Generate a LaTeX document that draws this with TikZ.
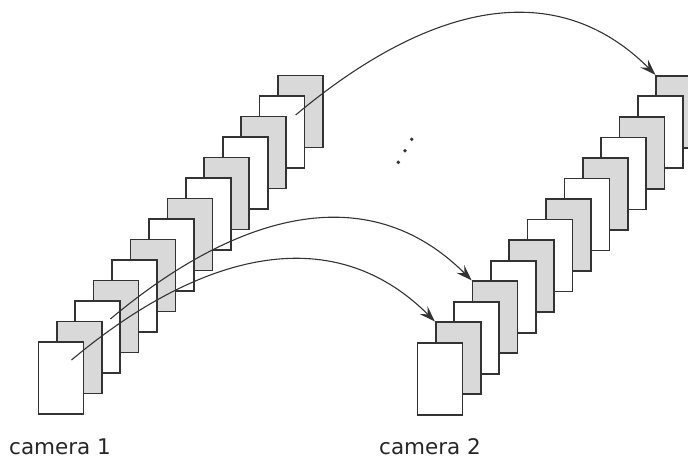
\documentclass[tikz,border=0pt]{standalone}
\usepackage{fontspec}
\setmainfont{DejaVu Sans}
\usetikzlibrary{arrows.meta,calc}
\begin{document}
\begin{tikzpicture}[x=1pt,y=-1pt,
  framebox/.style={draw=black!80, line width=1.7pt, minimum width=45pt,
    minimum height=72pt, inner sep=0pt, anchor=north west},
  flow/.style={draw=black!80, line width=1.1pt,
    -{Stealth[length=16pt,width=11pt,inset=6pt]}},
  camlabel/.style={font=\fontsize{21.5}{24}\selectfont, anchor=base west,
    inner sep=0pt, text=black!85},
  dot/.style={circle, fill=black!80, inner sep=0pt, minimum size=3.8pt}
]
\useasboundingbox (0,0) rectangle (688,458);

% frame stacks, drawn from the back to the front
\foreach \i in {13,12,...,0} {
  \pgfmathtruncatemacro{\odd}{mod(\i,2)}
  \ifnum\odd=1 \def\fillc{black!15}\else\def\fillc{white}\fi
  \node[framebox, fill=\fillc] (c1-\i) at ({37.5+18.43*\i},{341-20.5*\i}) {};
}
\foreach \i in {13,12,...,0} {
  \pgfmathtruncatemacro{\odd}{mod(\i,2)}
  \ifnum\odd=1 \def\fillc{black!15}\else\def\fillc{white}\fi
  \node[framebox, fill=\fillc] (c2-\i) at ({416.5+18.38*\i},{342-20.55*\i}) {};
}

% correspondences between the two sequences
\coordinate (s1) at ($(c1-0.north west)+(34,19)$);
\coordinate (s2) at ($(c1-2.north west)+(36,19)$);
\coordinate (s3) at ($(c1-12.north west)+(37,20)$);
\draw[flow] (s1) .. controls +(124,-104) and +(-105,-105) .. (c2-1.north west);
\draw[flow] (s2) .. controls +(124,-104) and +(-105,-105) .. (c2-3.north west);
\draw[flow] (s3) .. controls +(124,-104) and +(-105,-105) .. (c2-13.north west);

% ellipsis between the arrows
\node[dot] (d1) at (411.7,139.3) {};
\node[dot] (d2) at (405,150.7) {};
\node[dot] (d3) at (398.3,162.3) {};

% camera names
\node[camlabel] (lab1) at (9,454) {camera 1};
\node[camlabel] (lab2) at (379,454) {camera 2};
\end{tikzpicture}
\end{document}
